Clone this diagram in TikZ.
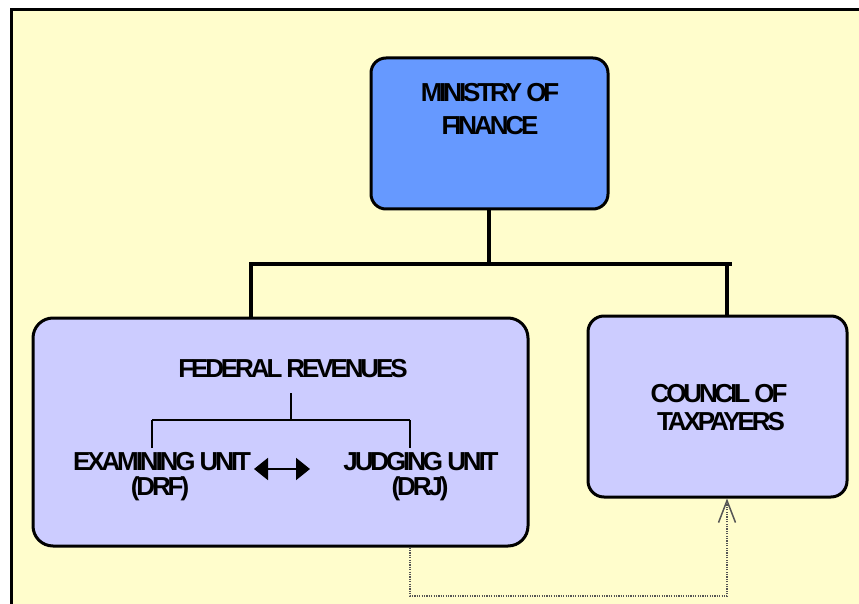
\documentclass[tikz,border=0pt]{standalone}
\usepackage{fontspec}
\usetikzlibrary{arrows.meta}
\newfontfamily\lblfont{Liberation Sans}[LetterSpace=-12]
\definecolor{panel}{HTML}{FFFDCC}
\definecolor{topblue}{HTML}{6699FF}
\definecolor{lavender}{HTML}{CCCCFF}
\definecolor{dotgray}{HTML}{555555}
\tikzset{
  box/.style={draw=black, line width=3pt, rounded corners=16pt, inner sep=0pt},
  lbl/.style={font=\lblfont\bfseries\fontsize{26}{30}\selectfont, inner sep=0pt, anchor=base, text=black},
  bus/.style={line width=4pt},
  twig/.style={line width=1.8pt},
}
\begin{document}
\begin{tikzpicture}[x=1pt,y=-1pt]
\useasboundingbox (0,0) rectangle (859,604);
\clip (0,0) rectangle (859,604);

% background panel
\draw[fill=panel, line width=3pt] (11,9.5) rectangle (900,700);

% boxes
\node[box, fill=topblue, minimum width=237pt, minimum height=151pt, rounded corners=15pt] (min) at (489.5,133.5) {};
\node[box, fill=lavender, minimum width=495pt, minimum height=228pt, rounded corners=20pt] (fed) at (280.5,432) {};
\node[box, fill=lavender, minimum width=259pt, minimum height=181pt, rounded corners=16pt] (cou) at (717.5,406.5) {};

% labels
\node[lbl] (min1) at (490,102) {MINISTRY OF};
\node[lbl] (min2) at (490,135) {FINANCE};
\node[lbl] (fedrev) at (293,377) {FEDERAL REVENUES};
\node[lbl] (exam1) at (162,470) {EXAMINING UNIT};
\node[lbl] (exam2) at (160,495) {(DRF)};
\node[lbl] (judg1) at (421,470) {JUDGING UNIT};
\node[lbl] (judg2) at (420,495) {(DRJ)};
\node[lbl] (cou1) at (719,402) {COUNCIL OF};
\node[lbl] (cou2) at (721,430) {TAXPAYERS};

% main hierarchy bus
\coordinate (busL) at (249,264);
\coordinate (busR) at (732,264);
\coordinate (legL) at (251,264);
\coordinate (legR) at (727,264);
\draw[bus] (min.south -| 489,0) -- (489,264);
\draw[bus] (busL) -- (busR);
\draw[bus] (legL) -- (fed.north -| legL);
\draw[bus] (legR) -- (cou.north -| legR);

% inner tree of federal revenues
\coordinate (stem) at (291,393);
\coordinate (forkM) at (291,420);
\coordinate (forkL) at (152,420);
\coordinate (forkR) at (410,420);
\coordinate (footL) at (152,448);
\coordinate (footR) at (410,448);
\draw[twig] (stem) -- (forkM);
\draw[twig] (forkL) -- (forkR);
\draw[twig] (forkL) -- (footL);
\draw[twig] (forkR) -- (footR);

% two-way link between the units
\coordinate (arrL) at (254,469);
\coordinate (arrR) at (310,469);
\draw[line width=2pt, {Triangle[length=14pt,width=22pt]}-{Triangle[length=14pt,width=22pt]}] (arrL) -- (arrR);

% appeal path to the council
\coordinate (dotL) at (410,596);
\coordinate (dotR) at (727,596);
\draw[dotgray, line width=1.3pt, dash pattern=on 1.2pt off 1.2pt,
      -{Straight Barb[length=22pt,width=17pt,line width=1.5pt]}]
  (fed.south -| dotL) -- (dotL) -- (dotR) -- (cou.south -| dotR);
\end{tikzpicture}
\end{document}
